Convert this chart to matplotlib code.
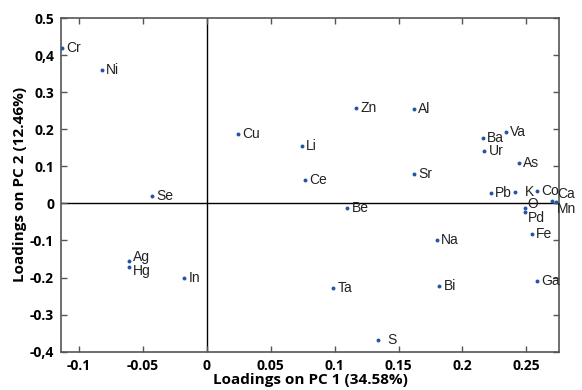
import matplotlib
matplotlib.use("Agg")
import matplotlib.pyplot as plt
from matplotlib.ticker import FixedLocator

# PCA loadings
elements = ['Cr', 'Ni', 'Cu', 'Se', 'Zn', 'Al', 'Li', 'Ce', 'Sr', 'Be',
            'Ba', 'Va', 'Ur', 'As', 'Pb', 'K', 'Co', 'Ca', 'Mn', 'O', 'Pd',
            'Fe', 'Na', 'Ga', 'Ta', 'Bi', 'S', 'Ag', 'Hg', 'In']
pc1 = [-0.113, -0.082, 0.0247, -0.0425, 0.117, 0.162, 0.0742, 0.0768, 0.162, 0.110,
       0.216, 0.234, 0.217, 0.244, 0.222, 0.241, 0.2586, 0.270, 0.273, 0.2487, 0.249,
       0.254, 0.180, 0.2586, 0.099, 0.182, 0.134, -0.0607, -0.0607, -0.0175]
pc2 = [0.419, 0.360, 0.186, 0.020, 0.258, 0.254, 0.156, 0.063, 0.078, -0.013,
       0.176, 0.192, 0.141, 0.108, 0.029, 0.032, 0.033, 0.007, 0.004, -0.013, -0.024,
       -0.083, -0.100, -0.209, -0.227, -0.222, -0.368, -0.155, -0.171, -0.200]

# label offsets in points (most sit just right of the dot)
offsets = {'K': (7, 0), 'S': (7, 0), 'O': (2, 3), 'Pd': (2, -4),
           'Ca': (4, 5), 'Mn': (1, -5), 'Ag': (3, 3), 'Hg': (3, -3)}

x_ticks = [-0.1, -0.05, 0, 0.05, 0.1, 0.15, 0.2, 0.25]
x_tick_labels = ['-0.1', '-0.05', '0', '0.05', '0.1', '0.15', '0.2', '0.25']
y_ticks = [-0.4, -0.3, -0.2, -0.1, 0, 0.1, 0.2, 0.3, 0.4, 0.5]
y_tick_labels = ['-0,4', '-0.3', '-0.2', '-0.1', '0', '0.1', '0.2', '0.3', '0,4', '0.5']

fig = plt.figure(figsize=(5.82, 3.9), dpi=100)
ax = fig.add_axes([0.1048, 0.0982, 0.8557, 0.8556])

ax.axhline(0, color='black', lw=1.0, zorder=1)
ax.axvline(0, color='black', lw=1.0, zorder=1)

ax.scatter(pc1, pc2, s=8, color='#2255a4', zorder=3, linewidths=0)

for name, x, y in zip(elements, pc1, pc2):
    dx, dy = offsets.get(name, (3, 0))
    ax.annotate(name, (x, y), xytext=(dx, dy), textcoords='offset points',
                ha='left', va='center', fontsize=10, color='#222222',
                family='Liberation Sans', zorder=4)

ax.set_xlim(-0.114, 0.2755)
ax.set_ylim(-0.4, 0.5)
ax.xaxis.set_major_locator(FixedLocator(x_ticks))
ax.yaxis.set_major_locator(FixedLocator(y_ticks))
ax.set_xticklabels(x_tick_labels, fontsize=10, fontweight='bold', family='Open Sans')
ax.set_yticklabels(y_tick_labels, fontsize=10, fontweight='bold', family='Open Sans')
ax.tick_params(direction='in', top=True, right=True, length=4, width=1,
               color='#555555', pad=5)

for s in ax.spines.values():
    s.set_color('#555555')
    s.set_linewidth(1.2)

ax.set_xlabel('Loadings on PC 1 (34.58%)', fontsize=11, fontweight='bold',
              family='Open Sans', labelpad=0)
ax.set_ylabel('Loadings on PC 2 (12.46%)', fontsize=11, fontweight='bold',
              family='Open Sans', labelpad=2)

fig.savefig('out.png', dpi=100)
